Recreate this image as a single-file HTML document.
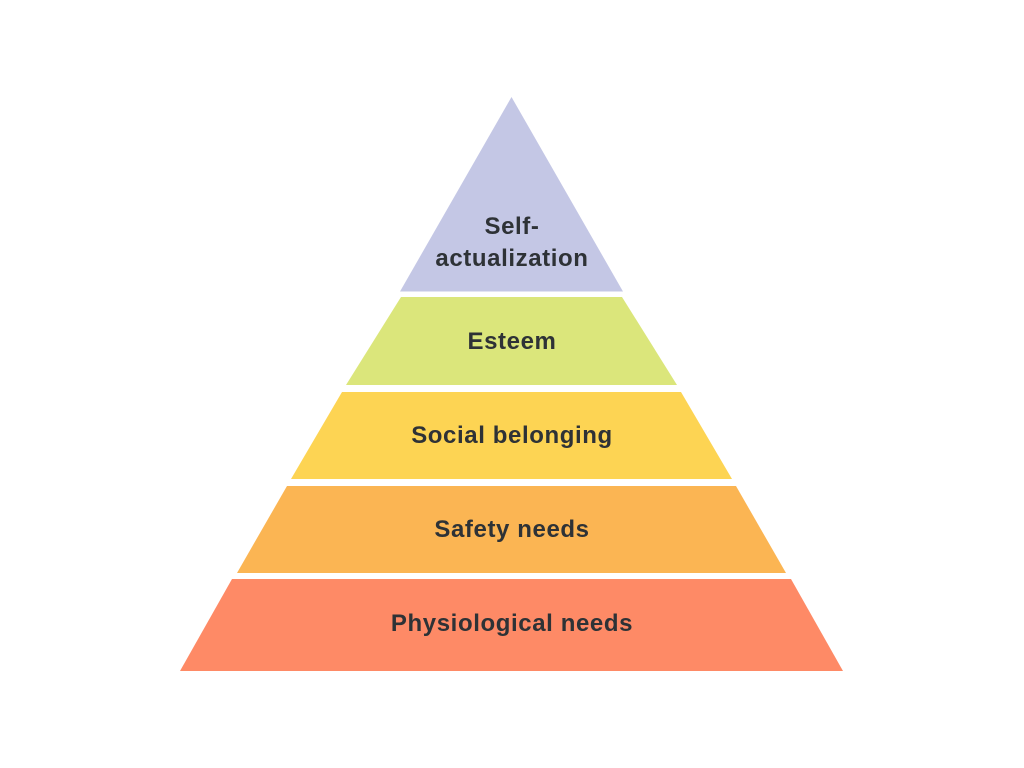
<!DOCTYPE html>
<html><head><meta charset="utf-8"><style>
html,body{margin:0;padding:0;background:#fff;}
svg{display:block}
text{font-family:"Liberation Sans","DejaVu Sans",sans-serif;font-weight:bold;font-size:24px;letter-spacing:0.6px;fill:#2e3236;text-anchor:middle}
</style></head><body>
<svg width="1024" height="768" viewBox="0 0 1024 768">
<polygon points="511.5,97 623,291.5 400,291.5" fill="#c4c7e5"/>
<polygon points="401,297 622,297 677,385 346,385" fill="#dbe67b"/>
<polygon points="342,392 681,392 732,479 291,479" fill="#fdd453"/>
<polygon points="287,486 736,486 786,573 237,573" fill="#fbb553"/>
<polygon points="232,579 791,579 843,671 180,671" fill="#fe8a66"/>
<text x="512" y="234">Self-</text>
<text x="512" y="266">actualization</text>
<text x="512" y="349">Esteem</text>
<text x="512" y="443">Social belonging</text>
<text x="512" y="537">Safety needs</text>
<text x="512" y="631">Physiological needs</text>
</svg>
</body></html>
